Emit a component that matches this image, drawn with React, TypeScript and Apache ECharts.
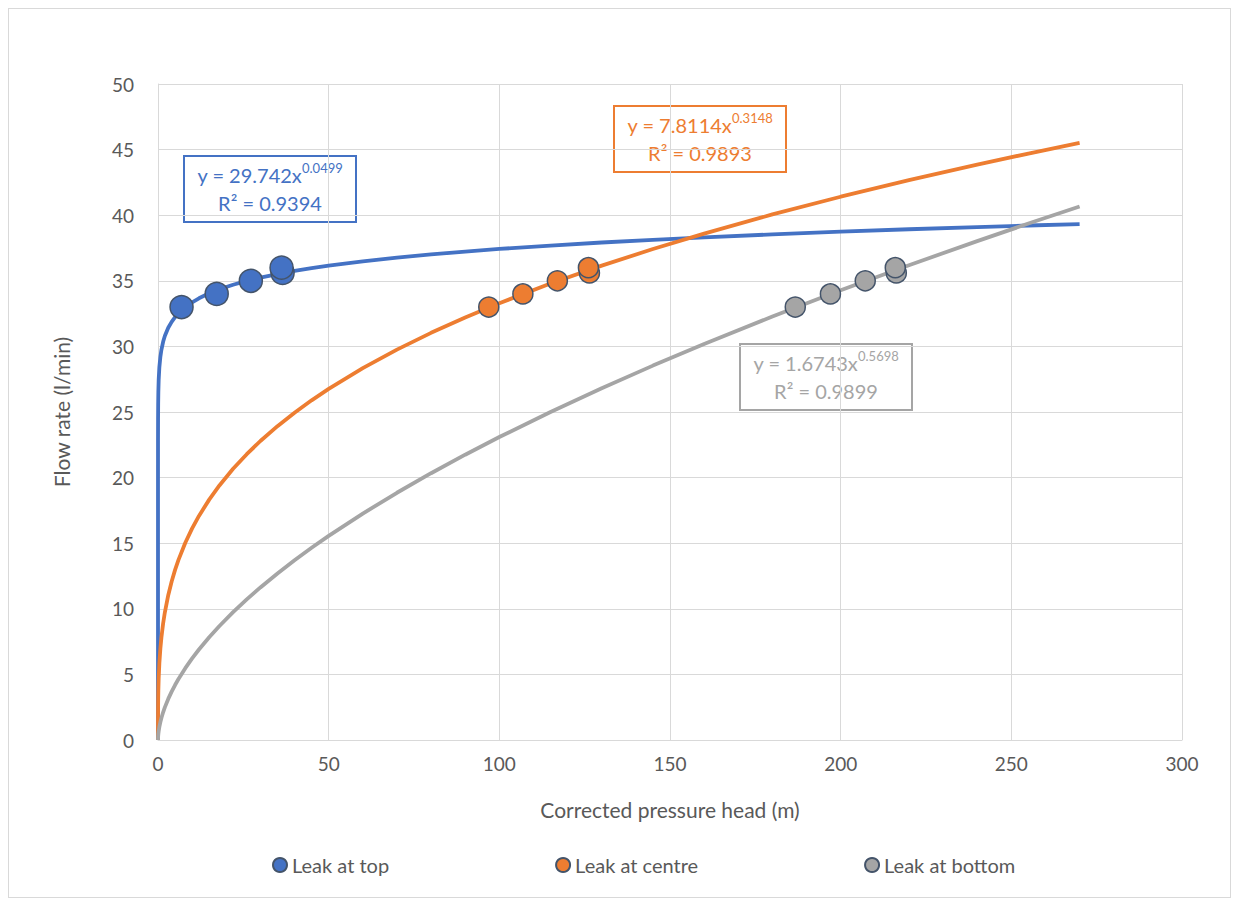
import React, { useEffect, useRef } from "react";
import * as echarts from "echarts";

// Measured points (corrected pressure head m, flow rate l/min)
const topX = [6.9, 17.2, 27.2, 36.5, 36.2];
const topY = [33.0, 34.0, 35.0, 35.6, 36.0];
const centreX = [96.9, 106.9, 117.0, 126.4, 126.1];
const centreY = [33.0, 34.0, 35.0, 35.6, 36.0];
const bottomX = [186.7, 197.0, 207.2, 216.3, 216.0];
const bottomY = [33.0, 34.0, 35.0, 35.6, 36.0];

// Power trendline coefficients y = a * x^b (as labelled in the chart)
const fitA = [29.742, 7.8114, 1.6743];
const fitB = [0.0499, 0.3148, 0.5698];
const fitR2 = ["0.9394", "0.9893", "0.9899"];
const trendX = [0, 0.0005, 0.005, 0.02, 0.05, 0.1, 0.2, 0.4, 0.7, 1, 1.5, 2, 3, 4, 5, 6, 8, 10, 12, 15, 18, 22, 26, 30, 35, 40, 45, 50, 60, 70, 80, 90, 100, 115, 130, 145, 160, 180, 200, 220, 240, 255, 270];

const seriesNames = ["Leak at top", "Leak at centre", "Leak at bottom"];
const colors = ["#4472C4", "#ED7D31", "#A5A5A5"];
const xTicks = { min: 0, max: 300, interval: 50 };
const yTicks = { min: 0, max: 50, interval: 5 };

const FONT = "Lato, 'Open Sans', sans-serif";

export default function App() {
  const ref = useRef<HTMLDivElement>(null);
  useEffect(() => {
    if (!ref.current) return;
    const chart = echarts.init(ref.current, null, { renderer: "svg" });
    const pts = [
      topX.map((x, i) => [x, topY[i]]),
      centreX.map((x, i) => [x, centreY[i]]),
      bottomX.map((x, i) => [x, bottomY[i]]),
    ];
    const markerSizes = [23, 20, 20];
    const trend = fitA.map((a, k) => ({
      type: "line",
      name: "trend" + k,
      data: trendX.map((x) => [x, a * Math.pow(x, fitB[k])]),
      showSymbol: false,
      symbol: "none",
      lineStyle: { color: colors[k], width: 3.8 },
      z: 2,
      silent: true,
    }));
    const scat = seriesNames.map((n, k) => ({
      type: "scatter",
      name: n,
      data: pts[k],
      symbol: "circle",
      symbolSize: markerSizes[k],
      itemStyle: { color: colors[k], borderColor: "#44546A", borderWidth: 1.5, opacity: 1 },
      z: 3,
    }));

    const box = (k: number, x: number, y: number, fill: string) => ({
      type: "group",
      x,
      y,
      children: [
        {
          type: "rect",
          shape: { x: 0, y: 0, width: 172, height: 66 },
          style: { fill, stroke: colors[k], lineWidth: 2 },
        },
        {
          type: "text",
          x: 86,
          y: 33,
          style: {
            text: `{a|y = ${fitA[k]}x}{s|${fitB[k]}}\n{a|R² = ${fitR2[k]}}`,
            align: "center",
            verticalAlign: "middle",
            rich: {
              a: { fontSize: 20, fontFamily: FONT, fill: colors[k], lineHeight: 28 },
              s: { fontSize: 13, fontFamily: FONT, fill: colors[k], lineHeight: 28, verticalAlign: "top" },
            },
          },
        },
      ],
    });

    chart.setOption({
      animation: false,
      backgroundColor: "#ffffff",
      textStyle: { fontFamily: FONT },
      grid: { left: 149, top: 75, right: 48, bottom: 157 },
      legend: {
        data: seriesNames.map((n) => ({ name: n, icon: "circle" })),
        bottom: 17,
        left: 258,
        itemGap: 166,
        itemWidth: 14,
        itemHeight: 14,
        textStyle: { fontSize: 20, color: "#595959", fontFamily: FONT, padding: [0, 0, 0, 0] },
      },
      xAxis: {
        type: "value",
        ...xTicks,
        name: "Corrected pressure head (m)",
        nameLocation: "middle",
        nameGap: 59,
        nameTextStyle: { fontSize: 21, color: "#595959" },
        axisLine: { lineStyle: { color: "#d9d9d9" } },
        axisTick: { show: false },
        axisLabel: { fontSize: 19, color: "#595959", margin: 14 },
        splitLine: { lineStyle: { color: "#d9d9d9", width: 1 } },
      },
      yAxis: {
        type: "value",
        ...yTicks,
        name: "Flow rate (l/min)",
        nameLocation: "middle",
        nameGap: 86,
        nameTextStyle: { fontSize: 21, color: "#595959" },
        axisLine: { show: true, lineStyle: { color: "#d9d9d9" } },
        axisTick: { show: false },
        axisLabel: { fontSize: 19, color: "#595959", margin: 24 },
        splitLine: { lineStyle: { color: "#d9d9d9", width: 1 } },
      },
      series: [...trend, ...scat],
      graphic: [
        box(0, 175, 147, "#ffffff"),
        box(1, 605, 97, "#ffffff"),
        box(2, 731, 335, "transparent"),
      ],
    } as any);
    return () => chart.dispose();
  }, []);
  return (
    <div
      ref={ref}
      style={{ width: 1223, height: 890, border: "1px solid #d9d9d9", boxSizing: "border-box" }}
    />
  );
}
